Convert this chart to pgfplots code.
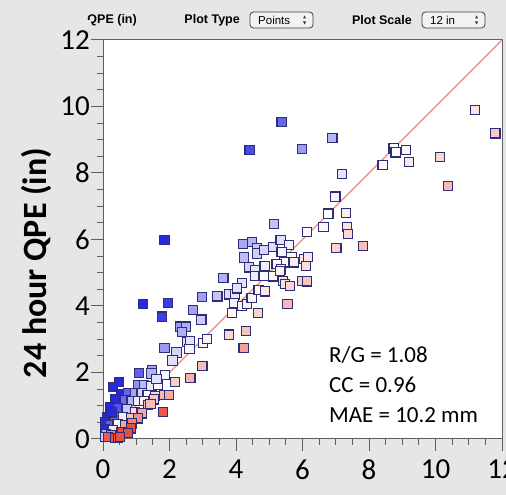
\documentclass[border=0pt]{standalone}
\usepackage{pgfplots}
\pgfplotsset{compat=1.18}
\usepackage{pgfplotstable}
\usepackage{fontspec}
\setmainfont{Carlito}
\newfontfamily\hv{Liberation Sans}
\definecolor{panel}{RGB}{230,230,230}
\definecolor{edge}{RGB}{45,45,120}
\definecolor{oneline}{RGB}{240,135,135}
\definecolor{axisgray}{RGB}{95,95,95}

% gauge (x) versus 24 hour QPE (y), inches
\pgfplotstableread{
x y
1.21 4.06
1.96 4.10
1.77 3.68
1.85 5.98
2.71 3.87
2.97 4.28
3.44 4.29
3.62 4.85
4.41 8.70
5.37 9.54
5.99 8.73
6.90 9.06
2.96 3.59
2.32 3.38
2.50 3.38
2.38 3.21
2.53 2.93
2.62 2.95
2.60 2.70
3.00 2.88
3.13 3.01
1.85 2.73
2.21 2.60
2.09 2.36
3.78 3.14
4.30 3.25
4.23 2.73
2.99 2.20
2.63 1.84
2.16 1.71
3.88 3.79
4.66 3.78
3.79 4.35
3.97 4.35
3.93 4.10
4.19 4.00
4.33 4.07
4.47 4.24
4.17 4.70
4.03 4.53
4.68 4.49
4.88 4.44
4.21 5.87
4.48 5.92
4.64 5.75
4.63 5.58
4.85 5.68
5.11 5.77
5.34 5.98
5.59 5.84
5.37 5.63
5.67 5.47
5.75 5.31
5.44 5.31
5.22 5.26
5.35 5.10
4.24 5.46
4.39 5.16
4.58 5.07
4.86 5.21
4.57 4.90
4.83 4.90
5.12 4.89
5.32 5.06
5.15 6.46
5.41 4.76
5.48 4.66
5.63 4.60
5.55 4.05
6.05 5.42
6.17 5.47
6.10 5.20
5.98 4.76
6.14 4.74
6.13 6.23
6.63 6.38
7.33 6.38
7.36 6.17
7.02 5.74
7.81 5.81
6.78 6.78
7.30 6.79
6.99 7.29
7.18 7.98
8.41 8.23
8.74 8.74
8.80 8.62
9.12 8.70
9.21 8.34
10.13 8.48
10.38 7.60
11.18 9.89
11.80 9.19
1.47 2.07
1.08 1.99
1.46 1.97
1.86 1.93
0.48 1.71
0.30 1.57
1.06 1.62
1.24 1.62
1.46 1.59
1.66 1.62
1.61 1.81
0.56 1.34
0.76 1.39
0.96 1.37
1.16 1.37
1.34 1.33
1.56 1.30
1.84 1.33
1.98 1.33
1.54 1.19
0.36 1.19
0.66 1.17
0.86 1.14
1.06 1.14
1.24 1.14
1.36 1.02
1.43 1.05
0.21 0.97
0.46 0.92
0.71 0.89
0.96 0.82
1.16 0.77
1.81 0.82
0.11 0.67
0.36 0.67
0.61 0.65
0.84 0.62
1.06 0.62
0.05 0.52
0.26 0.80
0.21 0.42
0.44 0.45
0.66 0.42
0.86 0.47
0.84 0.32
0.05 0.30
0.31 0.27
0.10 0.15
0.25 0.12
0.56 0.22
0.76 0.19
0.05 0.07
0.16 0.05
0.36 0.02
0.46 0.02
0.51 0.07
}\qpe

\begin{document}
\begin{tikzpicture}
\useasboundingbox (0,0) rectangle (506pt,495pt);
\clip (0,0) rectangle (506pt,495pt);
\fill[panel] (0,0) rectangle (506pt,495pt);

% control bar
\node[font=\hv\bfseries\fontsize{12.5}{14}\selectfont, anchor=east, inner sep=0pt] at (137pt,475pt) {QPE (in)};
\node[font=\hv\bfseries\fontsize{12.5}{14}\selectfont, anchor=east, inner sep=0pt] at (240pt,475pt) {Plot Type};
\draw[rounded corners=3.5pt, fill=white!50!panel, draw=black!75, line width=0.8pt] (250pt,467pt) rectangle (313pt,483pt);
\node[font=\hv\fontsize{11.5}{13}\selectfont, anchor=west, inner sep=0pt] at (258pt,475pt) {Points};
\fill[black!80] (303pt,476.5pt) -- (306pt,476.5pt) -- (304.5pt,479.5pt) -- cycle;
\fill[black!80] (303pt,473.5pt) -- (306pt,473.5pt) -- (304.5pt,470.5pt) -- cycle;
\node[font=\hv\bfseries\fontsize{12.5}{14}\selectfont, anchor=east, inner sep=0pt] at (412pt,475pt) {Plot Scale};
\draw[rounded corners=3.5pt, fill=white!50!panel, draw=black!75, line width=0.8pt] (422pt,467pt) rectangle (485pt,483pt);
\node[font=\hv\fontsize{11.5}{13}\selectfont, anchor=west, inner sep=0pt] at (430pt,475pt) {12 in};
\fill[black!80] (475pt,476.5pt) -- (478pt,476.5pt) -- (476.5pt,479.5pt) -- cycle;
\fill[black!80] (475pt,473.5pt) -- (478pt,473.5pt) -- (476.5pt,470.5pt) -- cycle;

\begin{axis}[
  at={(103pt,56pt)}, anchor=south west,
  scale only axis, width=399pt, height=399pt,
  xmin=0, xmax=12, ymin=0, ymax=12,
  xtick={0,2,...,12}, ytick={0,2,...,12},
  minor tick num=3,
  tick align=outside, tick pos=left,
  major tick length=12pt, minor tick length=6pt,
  axis line style={draw=axisgray, line width=1pt},
  every tick/.style={draw=axisgray, line width=1pt},
  axis background/.style={fill=white},
  /pgf/number format/assume math mode=true,
  ticklabel style={font=\fontsize{29}{30}\selectfont, text=black},
  xticklabel style={yshift=-5pt},
  yticklabel style={fill=panel, inner xsep=1pt, inner ysep=11pt},
  clip=false,
  colormap={qpegauge}{rgb255=(232,80,62) rgb255=(255,255,255) rgb255=(40,40,225)},
  point meta min=-0.8, point meta max=0.8,
]
\addplot[draw=oneline, line width=1.2pt] coordinates {(0,0) (12,12)};
\addplot[scatter, only marks, mark=square*, mark size=4.6pt,
  mark options={line width=1.1pt},
  point meta=explicit,
  scatter/use mapped color={draw=edge, fill=mapped color}]
  table[x=x, y=y, meta expr={ln((\thisrow{y}+0.05)/(\thisrow{x}+0.05))}] {\qpe};
\end{axis}

% summary statistics
\node[font=\fontsize{23}{25}\selectfont, anchor=west, inner sep=0pt] at (329pt,140pt) {R/G = 1.08};
\node[font=\fontsize{23}{25}\selectfont, anchor=west, inner sep=0pt] at (329pt,110pt) {CC = 0.96};
\node[font=\fontsize{23}{25}\selectfont, anchor=west, inner sep=0pt] at (329pt,80pt) {MAE = 10.2 mm};

% y axis title
\node[font=\bfseries\fontsize{34}{36}\selectfont, rotate=90] at (36pt,232pt) {24 hour QPE (in)};
\end{tikzpicture}
\end{document}
